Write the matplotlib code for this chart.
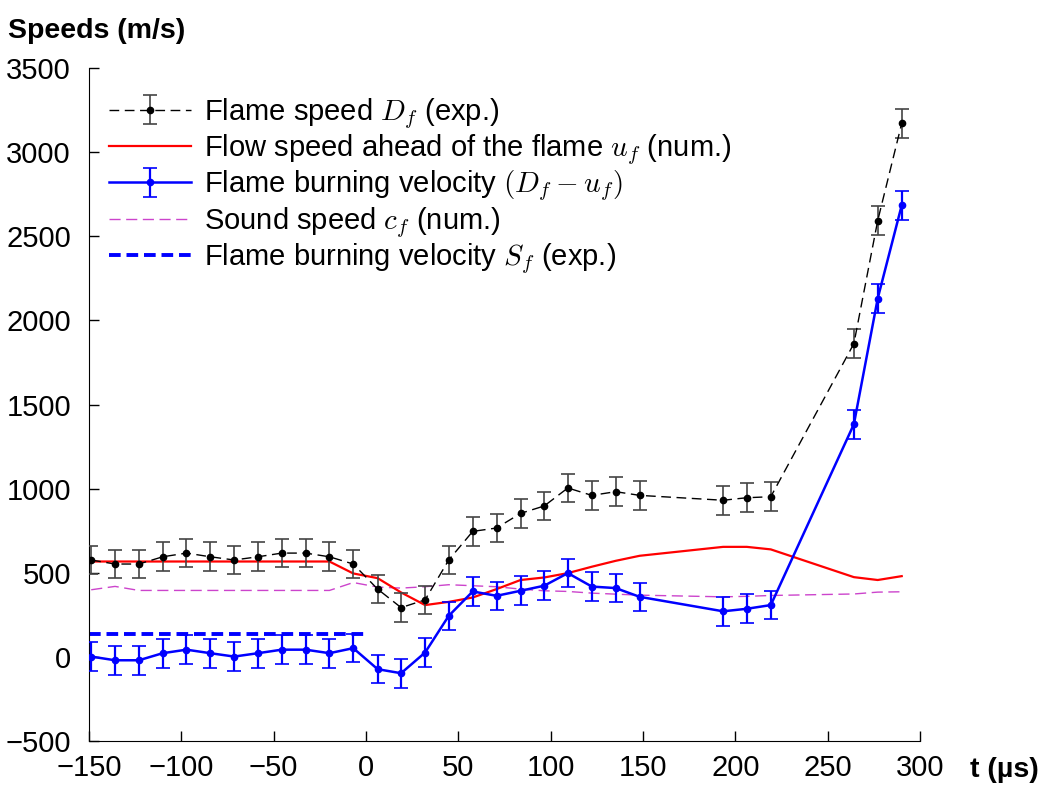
import matplotlib
matplotlib.use("Agg")
import matplotlib.pyplot as plt

plt.rcParams['font.family'] = ['Liberation Sans', 'DejaVu Sans']
plt.rcParams['mathtext.fontset'] = 'cm'

# experimental times (us)
t_exp = [-148.8, -135.9, -123.0, -110.1, -97.2, -84.3, -71.4, -58.5, -45.6, -32.7,
         -19.8, -6.9, 6.3, 19.0, 32.0, 44.8, 57.8, 70.7, 83.7, 96.5,
         109.3, 122.3, 135.2, 148.2, 193.4, 206.2, 219.2, 264.2, 277.1, 290.1]

# flame speed D_f (exp.)
flame_speed = [576, 552, 552, 595, 617, 595, 576, 595, 617, 617,
               595, 552, 403, 293, 339, 576, 746, 766, 853, 897,
               1004, 960, 982, 960, 931, 946, 952, 1862, 2593, 3171]
flame_err = [85, 85, 85, 85, 85, 85, 85, 85, 85, 85,
             85, 85, 85, 85, 85, 85, 85, 85, 85, 85,
             85, 85, 85, 85, 85, 85, 85, 85, 85, 85]

# flame burning velocity D_f - u_f
burning = [2, -20, -20, 22, 43, 22, 2, 22, 43, 43,
           22, 52, -73, -97, 26, 244, 389, 363, 393, 423,
           498, 418, 409, 357, 271, 286, 308, 1383, 2130, 2684]
burning_err = [85, 85, 85, 85, 85, 85, 85, 85, 85, 85,
               85, 85, 85, 85, 85, 85, 85, 85, 85, 85,
               85, 85, 85, 85, 85, 85, 85, 85, 85, 85]

# flow speed ahead of flame u_f (num.)
flow_speed = [567, 567, 567, 567, 567, 567, 567, 567, 567, 567,
              567, 496, 468, 383, 308, 327, 353, 403, 457, 472,
              498, 536, 571, 601, 654, 654, 639, 474, 457, 480]

# sound speed c_f (num.)
sound_speed = [399, 419, 395, 395, 395, 395, 395, 395, 395, 395,
               395, 442, 415, 409, 417, 429, 423, 417, 403, 393,
               389, 379, 373, 367, 357, 360, 365, 374, 385, 387]

# S_f (exp.)
sf_t = [-150, 0]
sf_val = [135, 135]

fig = plt.figure(figsize=(10.47, 7.89), dpi=100)
ax = fig.add_axes([0.085, 0.0608, 0.7937, 0.853])

h1 = ax.errorbar(t_exp, flame_speed, yerr=flame_err, color='black', ecolor='#444444',
                 elinewidth=1.2, capsize=5, capthick=1.2, marker='o', ms=4.5,
                 lw=1.0, dashes=(7, 4), label=r'Flame speed $D_f$ (exp.)', zorder=3)
h2, = ax.plot(t_exp, flow_speed, color='red', lw=1.6,
              label=r'Flow speed ahead of the flame $u_f$ (num.)', zorder=2)
h3 = ax.errorbar(t_exp, burning, yerr=burning_err, color='blue', ecolor='blue',
                 elinewidth=1.6, capsize=5, capthick=1.2, marker='o', ms=4.5,
                 lw=1.8, label=r'Flame burning velocity $(D_f - u_f)$', zorder=3)
h4, = ax.plot(t_exp, sound_speed, color='#cc44cc', lw=1.0, dashes=(8, 4),
              label=r'Sound speed $c_f$ (num.)', zorder=1)
h5, = ax.plot(sf_t, sf_val, color='blue', lw=2.8, dashes=(3, 1.5),
              label=r'Flame burning velocity $S_f$ (exp.)', zorder=2)

ax.set_xlim(-150, 300)
ax.set_ylim(-500, 3500)
ax.set_xticks([-150, -100, -50, 0, 50, 100, 150, 200, 250, 300])
ax.set_yticks([-500, 0, 500, 1000, 1500, 2000, 2500, 3000, 3500])
ax.spines['top'].set_visible(False)
ax.spines['right'].set_visible(False)
ax.tick_params(direction='in', length=7, width=1, labelsize=21)
ax.tick_params(axis='y', pad=13)
ax.tick_params(axis='x', pad=9)

leg = ax.legend(handles=[h1, h2, h3, h4, h5], loc='upper left',
                bbox_to_anchor=(0.003, 0.984), frameon=False,
                fontsize=21, handlelength=2.8, handletextpad=0.45,
                labelspacing=0.05, borderaxespad=0.2)

fig.text(0.008, 0.977, 'Speeds (m/s)', fontsize=20.5, fontweight='bold', va='top', ha='left')
fig.text(0.926, 0.024, 't (µs)', fontsize=20.5, fontweight='bold', va='center', ha='left')

fig.savefig('out.png', dpi=100)
